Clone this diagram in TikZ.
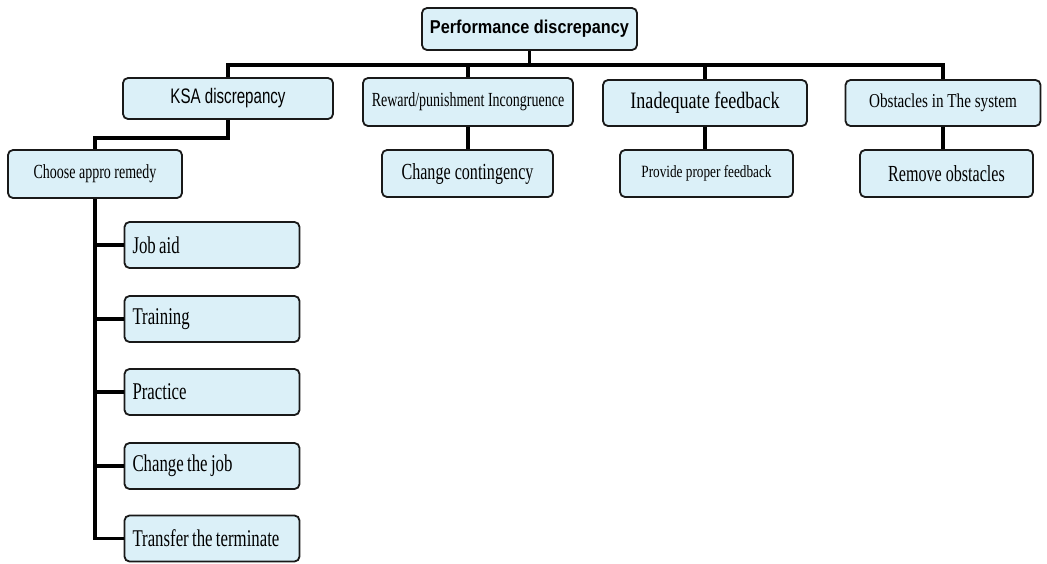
\documentclass[tikz,border=0pt]{standalone}
\usepackage{fontspec}
\setmainfont{Liberation Serif}
\newfontfamily\serA[FakeStretch=0.70]{Liberation Serif}
\newfontfamily\serB[FakeStretch=0.77]{Liberation Serif}
\newfontfamily\sanA[FakeStretch=0.72]{Liberation Sans}
\newfontfamily\sanB[FakeStretch=0.875]{Liberation Sans}
\definecolor{boxfill}{RGB}{219,240,248}
\definecolor{boxline}{RGB}{25,25,25}
\tikzset{
  box/.style={draw=boxline, line width=1.8pt, fill=boxfill, rounded corners=5pt,
    inner sep=0pt, align=center},
  leftbox/.style={box, align=left, inner xsep=8pt, text width=159pt, minimum height=46pt},
  conn/.style={draw=black, line width=3.6pt}
}
\newcommand{\fs}[1]{\fontsize{#1}{#1}\selectfont}
\begin{document}
\begin{tikzpicture}[x=1pt,y=-1pt]
\useasboundingbox[fill=white] (0,0) rectangle (1047,563);
% top
\node[box, minimum width=215pt, minimum height=42pt] (top) at (529.5,29)
  {\sanB\bfseries\fs{18.6}Performance discrepancy};
% level 1
\node[box, minimum width=210pt, minimum height=41pt] (ksa) at (228,98.5)
  {\sanA\fs{21}KSA discrepancy};
\node[box, minimum width=210pt, minimum height=48pt] (rew) at (468,102)
  {\serA\fs{20}Reward/punishment Incongruence};
\node[box, minimum width=204pt, minimum height=46pt] (inad) at (705,103)
  {\serB\fs{23.5}Inadequate feedback};
\node[box, minimum width=195pt, minimum height=46pt] (obs) at (943,103)
  {\serB\fs{19.7}Obstacles in The system};
% level 2
\node[box, minimum width=174pt, minimum height=48pt] (choose) at (95,174)
  {\serA\fs{20}Choose appro remedy};
\node[box, minimum width=171pt, minimum height=47pt] (cont) at (467.5,173.5)
  {\serA\fs{23}Change contingency};
\node[box, minimum width=173pt, minimum height=47pt] (prov) at (706.5,173.5)
  {\serB\fs{17.2}Provide proper feedback};
\node[box, minimum width=173pt, minimum height=47pt] (remv) at (946.5,173.5)
  {\serA\fs{23}Remove obstacles};
% remedies
\node[leftbox] (job) at (212,245) {\serA\fs{24}Job aid};
\node[leftbox] (train) at (212,319) {\serA\fs{24}Training};
\node[leftbox] (prac) at (212,392) {\serA\fs{24}Practice};
\node[leftbox] (chg) at (212,466) {\serA\fs{24}Change the job};
\node[leftbox] (trans) at (212,538.5) {\serA\fs{24}Transfer the terminate};
% connectors
\coordinate (bar) at (529.5,65);
\coordinate (kc) at (228,138);
\draw[conn] (top.south) -- (bar);
\draw[conn] (ksa.north) -- (ksa.north |- bar) -- (obs.north |- bar) -- (obs.north);
\draw[conn] (rew.north |- bar) -- (rew.north);
\draw[conn] (inad.north |- bar) -- (inad.north);
\draw[conn] (ksa.south) |- (choose.north |- kc) -- (choose.north);
\draw[conn] (rew.south) -- (rew.south |- cont.north);
\draw[conn] (inad.south) -- (inad.south |- prov.north);
\draw[conn] (obs.south) -- (obs.south |- remv.north);
\draw[conn] (choose.south) |- (trans.west);
\draw[conn] (choose.south |- job.west) -- (job.west);
\draw[conn] (choose.south |- train.west) -- (train.west);
\draw[conn] (choose.south |- prac.west) -- (prac.west);
\draw[conn] (choose.south |- chg.west) -- (chg.west);
\end{tikzpicture}
\end{document}
